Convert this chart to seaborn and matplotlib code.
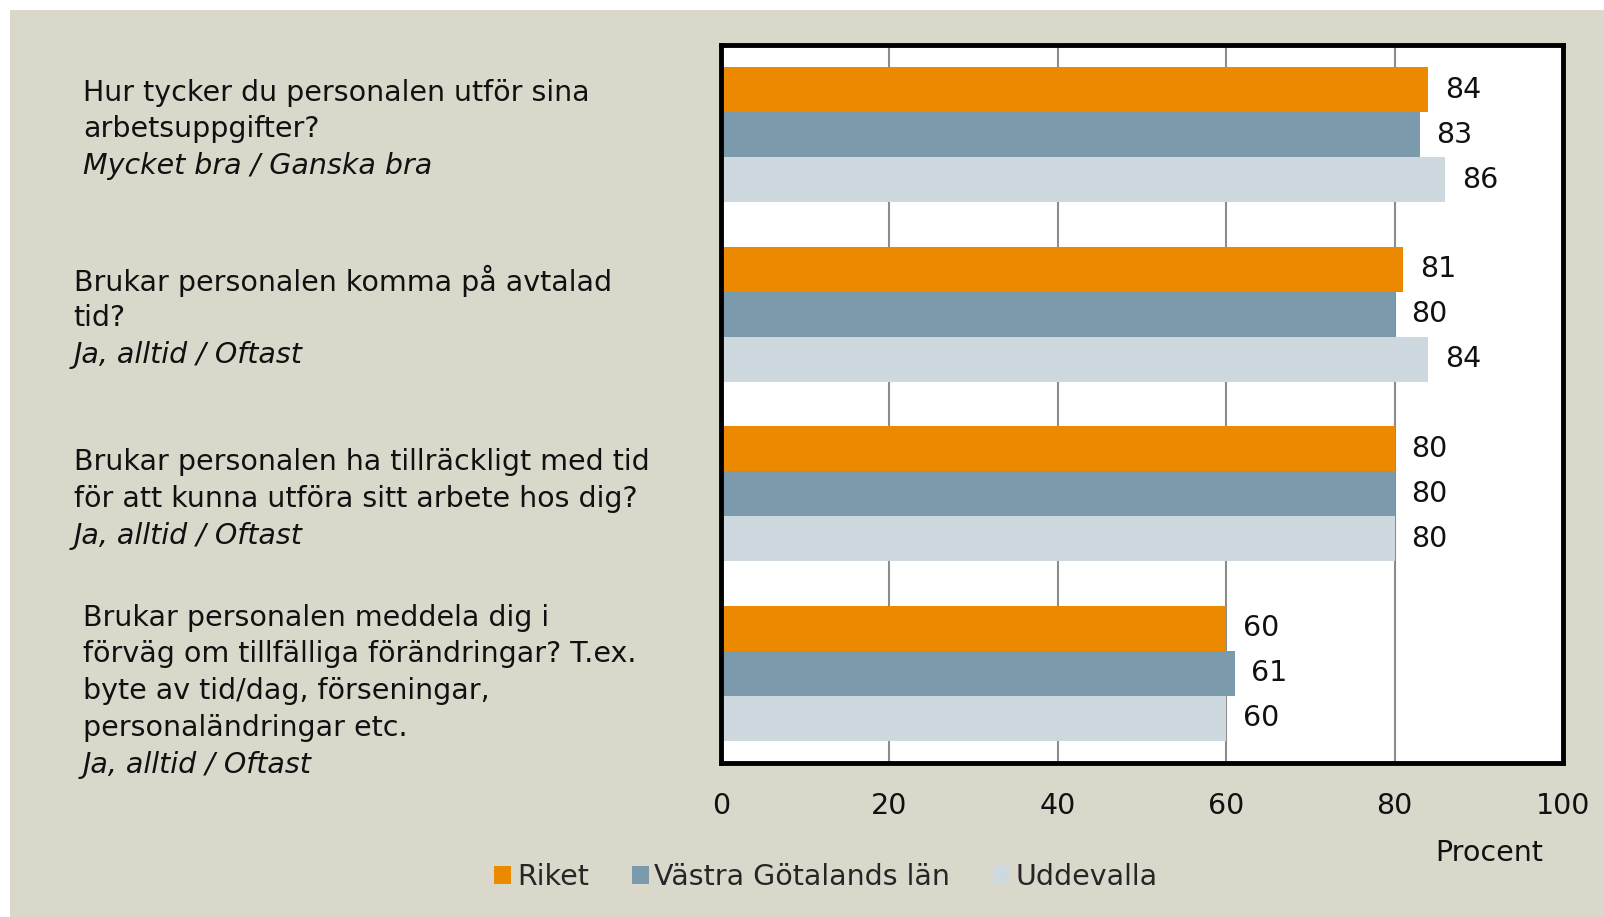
import numpy as np
import pandas as pd
import matplotlib.pyplot as plt
import matplotlib.transforms as mtransforms
from matplotlib.patches import Rectangle
import seaborn as sns

# data
questions = ["q1", "q2", "q3", "q4"]
question_text = [
    ["Hur tycker du personalen utför sina", "arbetsuppgifter?"],
    ["Brukar personalen komma på avtalad", "tid?"],
    ["Brukar personalen ha tillräckligt med tid", "för att kunna utföra sitt arbete hos dig?"],
    ["Brukar personalen meddela dig i", "förväg om tillfälliga förändringar? T.ex.",
     "byte av tid/dag, förseningar,", "personaländringar etc."],
]
answer_text = ["Mycket bra / Ganska bra", "Ja, alltid / Oftast",
               "Ja, alltid / Oftast", "Ja, alltid / Oftast"]
series = ["Riket", "Västra Götalands län", "Uddevalla"]
riket = [84, 81, 80, 60]
vgl = [83, 80, 80, 61]
uddevalla = [86, 84, 80, 60]
xticks = [0, 20, 40, 60, 80, 100]

colors = ["#EB8A00", "#7B9AAC", "#CDD8DF"]
bg = "#DAD7CB"

df = pd.DataFrame({
    "fraga": questions * 3,
    "omrade": [s for s in series for _ in questions],
    "varde": riket + vgl + uddevalla,
})

sns.set_style("white")
plt.rcParams["font.family"] = ["DejaVu Sans"]
fs = 20.5

fig = plt.figure(figsize=(16.04, 9.17), dpi=100, facecolor="white")
fig.patches.append(Rectangle((10 / 1604, 0), 1, 1 - 10 / 917, transform=fig.transFigure,
                             facecolor=bg, edgecolor="none", zorder=-10))
ax = fig.add_axes([0.4495, 0.168, 0.525, 0.783])

sns.barplot(data=df, x="varde", y="fraga", hue="omrade", hue_order=series,
            order=questions, palette=colors, width=0.75, orient="h",
            saturation=1, ax=ax, edgecolor="none", linewidth=0)

ax.set_xlim(0, 100)
ax.set_ylim(3.5, -0.5)
ax.set_xticks(xticks)
ax.set_yticks([])
ax.set_xlabel("")
ax.set_ylabel("")
ax.tick_params(axis="x", length=0, pad=21, labelsize=fs, labelcolor="#111111")
ax.xaxis.grid(True, color="#8c8c8c", linewidth=1.5)
ax.set_axisbelow(True)
for sp in ax.spines.values():
    sp.set_color("black")
    sp.set_linewidth(3.5)

for cont in ax.containers:
    ax.bar_label(cont, fmt="%d", padding=12, fontsize=fs, color="#111111")

# category labels on the left
label_x = [81, 72, 72, 81]
label_shift = [-0.03, 0.02, 0.03, 0.1]
line_step = 0.205
trans = mtransforms.blended_transform_factory(fig.transFigure, ax.transData)
for i, lines in enumerate(question_text):
    allines = lines + [answer_text[i]]
    n = len(allines)
    for j, txt in enumerate(allines):
        y = i + label_shift[i] + (j - (n - 1) / 2) * line_step
        ax.text(label_x[i] * 1.023 / 1604, y, txt, transform=trans, ha="left", va="center",
                fontsize=fs, color="#111111", style="italic" if j == n - 1 else "normal",
                clip_on=False)

fig.text(0.962, 0.07, "Procent", ha="right", va="center", fontsize=fs, color="#111111")

handles, labels = ax.get_legend_handles_labels()
ax.get_legend().remove()
fig.legend(handles, labels, loc="center", bbox_to_anchor=(0.515, 0.044), ncol=3,
           frameon=False, fontsize=fs, handlelength=0.6, handleheight=0.6,
           handletextpad=0.2, columnspacing=1.5)

fig.savefig("out.png", dpi=100, facecolor=fig.get_facecolor())
